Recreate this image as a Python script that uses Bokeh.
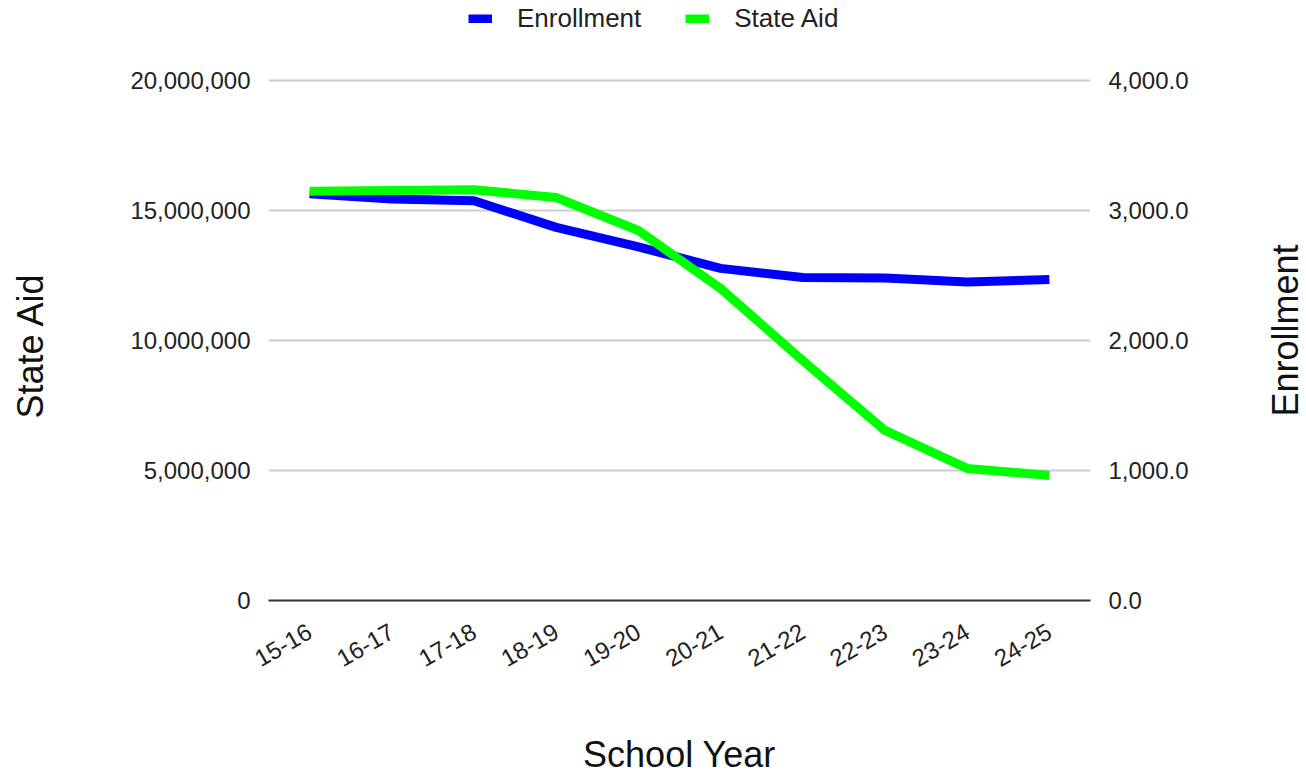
import math
from bokeh.plotting import figure
from bokeh.layouts import row
from bokeh.models import (Range1d, FactorRange, LinearAxis, FixedTicker, NumeralTickFormatter,
                          Legend, LegendItem, Label)
from bokeh.embed import file_html
from bokeh.resources import INLINE

# ---- data ----
years = ["15-16", "16-17", "17-18", "18-19", "19-20", "20-21", "21-22", "22-23", "23-24", "24-25"]
enrollment = [3128, 3088, 3075, 2870, 2720, 2555, 2485, 2480, 2450, 2470]
state_aid = [15740000, 15770000, 15800000, 15500000, 14230000, 12000000, 9230000, 6540000, 5080000, 4810000]
left_ticks = [0, 5000000, 10000000, 15000000, 20000000]
right_ticks = [0, 1000, 2000, 3000, 4000]

FONT = "Liberation Sans"
H = 774
SIDE_W = 60
FRAME_W, FRAME_H = 822, 600
TOP_FRAC = 600 / 520  # frame extends above the top gridline to hold the legend

p = figure(frame_width=FRAME_W, frame_height=FRAME_H, title=None,
           output_backend="svg", toolbar_location=None,
           x_range=FactorRange(*years), y_range=Range1d(0, left_ticks[-1] * TOP_FRAC),
           min_border_left=268 - SIDE_W, min_border_right=216 - SIDE_W,
           min_border_top=0, min_border_bottom=H - FRAME_H)
p.outline_line_color = None
p.background_fill_color = "white"
p.border_fill_color = "white"

p.extra_y_ranges = {"enr": Range1d(0, right_ticks[-1] * TOP_FRAC)}

# grid
p.xgrid.grid_line_color = None
p.ygrid.grid_line_color = "#cccccc"
p.ygrid.grid_line_width = 2
p.ygrid.ticker = FixedTicker(ticks=left_ticks)

# left axis
la = p.yaxis[0]
la.ticker = FixedTicker(ticks=left_ticks)
la.formatter = NumeralTickFormatter(format="0,0")
la.axis_line_color = None
la.major_tick_line_color = None
la.major_tick_out = 0
la.minor_tick_line_color = None
la.minor_tick_out = 0
la.major_label_standoff = 18
la.major_label_text_font = FONT
la.major_label_text_font_size = "24px"
la.major_label_text_color = "#222222"

# right axis
ra = LinearAxis(y_range_name="enr", ticker=FixedTicker(ticks=right_ticks),
                formatter=NumeralTickFormatter(format="0,0.0"))
ra.axis_line_color = None
ra.major_tick_line_color = None
ra.major_tick_out = 0
ra.minor_tick_line_color = None
ra.minor_tick_out = 0
ra.major_label_standoff = 18
ra.major_label_text_font = FONT
ra.major_label_text_font_size = "24px"
ra.major_label_text_color = "#222222"
p.add_layout(ra, "right")

# bottom axis
xa = p.xaxis[0]
xa.axis_line_color = "#333333"
xa.axis_line_width = 2
xa.major_tick_line_color = None
xa.major_tick_out = 0
xa.minor_tick_line_color = None
xa.minor_tick_out = 0
xa.major_label_orientation = math.pi / 6
xa.major_label_standoff = 29
xa.major_label_text_font = FONT
xa.major_label_text_font_size = "24px"
xa.major_label_text_color = "#222222"
xa.axis_label = "School Year"
xa.axis_label_text_font = FONT
xa.axis_label_text_font_size = "36px"
xa.axis_label_text_font_style = "normal"
xa.axis_label_text_color = "#111111"
xa.axis_label_standoff = 56

# lines
r_enr = p.line(years, enrollment, y_range_name="enr", line_color="#0000ff", line_width=9,
               line_join="round")
r_aid = p.line(years, state_aid, line_color="#00ff00", line_width=9, line_join="round")

# legend (inside the frame, in the space above the top gridline)
legend = Legend(items=[LegendItem(label="Enrollment", renderers=[r_enr]),
                       LegendItem(label="State Aid", renderers=[r_aid])],
                orientation="horizontal", location=(200, 566),
                glyph_width=24, glyph_height=9, label_standoff=25, spacing=44,
                padding=0, margin=0, border_line_color=None, background_fill_alpha=0,
                label_text_font=FONT, label_text_font_size="26px", label_text_color="#222222")
p.add_layout(legend, "center")


# narrow side strips holding the vertical axis titles (read bottom-to-top);
# their frames match the main frame (0..600 px from the top)
def title_strip(text, cx, cy_from_top):
    s = figure(frame_width=SIDE_W, frame_height=FRAME_H, title=None, output_backend="svg",
               toolbar_location=None,
               x_range=Range1d(0, SIDE_W), y_range=Range1d(0, FRAME_H),
               x_axis_location=None, y_axis_location=None,
               min_border_left=0, min_border_right=0, min_border_top=0,
               min_border_bottom=H - FRAME_H)
    s.outline_line_color = None
    s.grid.visible = False
    s.background_fill_color = "white"
    s.border_fill_color = "white"
    s.add_layout(Label(x=cx, y=FRAME_H - cy_from_top, text=text, angle=math.pi / 2,
                       text_align="center", text_baseline="middle",
                       text_font=FONT, text_font_size="36px", text_color="#111111"))
    return s


left_strip = title_strip("State Aid", 30, 345)
right_strip = title_strip("Enrollment", 39, 330)

layout = row(left_strip, p, right_strip, spacing=0)

open("out.html", "w").write(file_html(layout, INLINE))
